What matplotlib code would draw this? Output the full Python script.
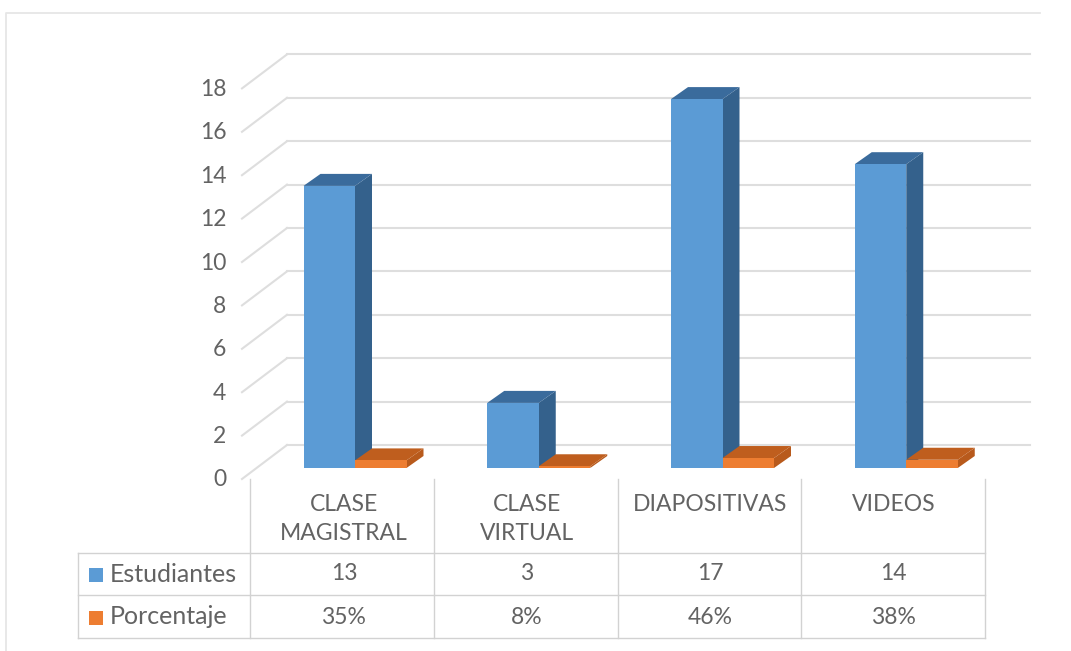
import matplotlib
matplotlib.use("Agg")
import matplotlib.pyplot as plt
from matplotlib.transforms import ScaledTranslation

plt.rcParams['font.family'] = ['Lato', 'DejaVu Sans']

categorias = ['CLASE\nMAGISTRAL', 'CLASE\nVIRTUAL', 'DIAPOSITIVAS', 'VIDEOS']
estudiantes = [13, 3, 17, 14]
porcentaje = [0.35, 0.08, 0.46, 0.38]
porcentaje_txt = ['35%', '8%', '46%', '38%']
ticks = [0, 2, 4, 6, 8, 10, 12, 14, 16, 18]

W, H = 1071, 651
GRIS = '#636363'
LINEA = '#dedede'
TABLA = '#d2d2d2'

fig = plt.figure(figsize=(W / 100, H / 100), dpi=100, facecolor='white')

# capa en pixeles para el marco y la tabla
px = fig.add_axes([0, 0, 1, 1])
px.set_xlim(0, W)
px.set_ylim(H, 0)
px.axis('off')

# marco de la imagen
px.plot([6, 6, 1040], [651, 13, 13], color='#e6e6e6', lw=1.3)

# eje principal: 0 en y=468, 21.7 px por unidad, 183.75 px por categoria
left, right, bottom, top = 250, 985, 479, 40
ppu = 21.7
ax = fig.add_axes([left / W, 1 - bottom / H, (right - left) / W, (bottom - top) / H])
ax.set_xlim(-0.5, 3.5)
ax.set_ylim(-(bottom - 468) / ppu, (468 - top) / ppu)
ax.patch.set_alpha(0)
for s in ax.spines.values():
    s.set_visible(False)
ax.set_xticks([])
ax.set_yticks(ticks)
ax.tick_params(axis='y', length=0, pad=17, labelsize=16.5, labelcolor=GRIS)
for lab in ax.get_yticklabels():
    lab.set_transform(lab.get_transform() + ScaledTranslation(0, -0.10, fig.dpi_scale_trans))

# profundidad de las barras y de la pared, en unidades de datos
dx = 17 / 183.75
dy = 12 / ppu
wall_dy = 23 / ppu
wall_x0 = -0.5 + 37 / 183.75
wall_x1 = 3.5 + 45 / 183.75
front_x = -0.5 - 8 / 183.75
front_dy = -11 / ppu

for t in ticks:
    ax.plot([wall_x0, wall_x1], [t + wall_dy, t + wall_dy], color=LINEA, lw=1.5, zorder=1, clip_on=False)
    ax.plot([front_x, wall_x0], [t + front_dy, t + wall_dy], color=LINEA, lw=1.5, zorder=1, clip_on=False)


def barra3d(x0, w, h, front, side, tope, z):
    ax.bar(x0, h, w, align='edge', color=front, zorder=z + 0.2)
    ax.fill([x0 + w, x0 + w + dx, x0 + w + dx, x0 + w], [0, dy, h + dy, h], color=side, lw=0, zorder=z)
    ax.fill([x0, x0 + dx, x0 + w + dx, x0 + w], [h, h + dy, h + dy, h], color=tope, lw=0, zorder=z + 0.1)


w = 51.5 / 183.75
for i in range(len(categorias)):
    x_b = i - 0.5 + 53.5 / 183.75
    barra3d(x_b, w, estudiantes[i], '#5b9bd5', '#34618c', '#3a6b9c', 2 + i)
    barra3d(x_b + w, w, porcentaje[i], '#ed7d31', '#b85a1c', '#bf5e1e', 2.5 + i)

# tabla de datos
col_x = [250, 433.75, 617.5, 801.25, 985]
fila_y = [479, 553, 595, 638]
tabla_x0 = 78
for x in col_x:
    px.plot([x, x], [fila_y[0], fila_y[-1]], color=TABLA, lw=1)
px.plot([tabla_x0, tabla_x0], [fila_y[1], fila_y[-1]], color=TABLA, lw=1)
for y in fila_y[1:]:
    px.plot([tabla_x0, col_x[-1]], [y, y], color=TABLA, lw=1)

fs = 16.5
for i, c in enumerate(categorias):
    xc = (col_x[i] + col_x[i + 1]) / 2 + 2 - i * 0.5
    px.text(xc, 494, c, ha='center', va='top', fontsize=fs, color=GRIS, linespacing=1.45)
    px.text(xc, 574, str(estudiantes[i]), ha='center', va='center', fontsize=fs, color=GRIS)
    px.text(xc, 617, porcentaje_txt[i], ha='center', va='center', fontsize=fs, color=GRIS)

px.add_patch(plt.Rectangle((89, 568), 14, 14, color='#5b9bd5', lw=0))
px.add_patch(plt.Rectangle((89, 611), 14, 14, color='#ed7d31', lw=0))
px.text(110, 574, 'Estudiantes', ha='left', va='center', fontsize=18, color=GRIS)
px.text(110, 617, 'Porcentaje', ha='left', va='center', fontsize=18, color=GRIS)

fig.savefig('out.png', dpi=100)
